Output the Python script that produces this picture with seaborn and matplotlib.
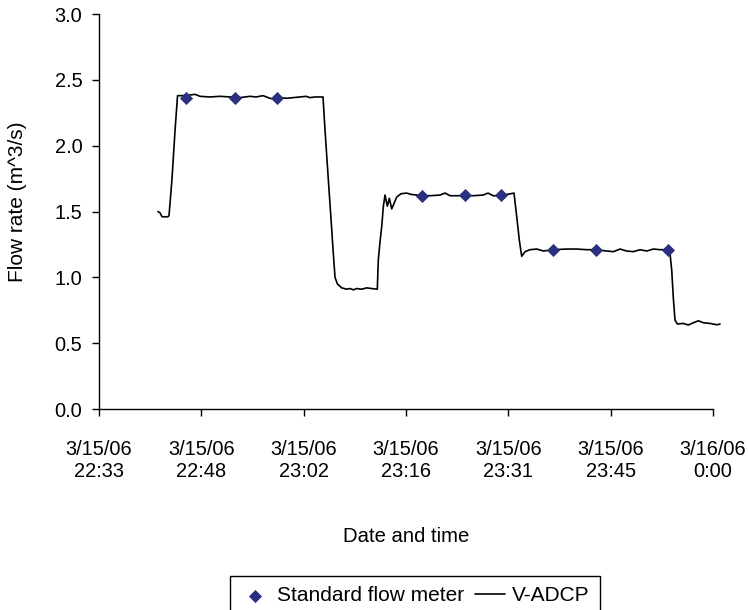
import pandas as pd
import numpy as np
import matplotlib
matplotlib.use("Agg")
import matplotlib.pyplot as plt
import matplotlib.dates as mdates
from matplotlib.ticker import FuncFormatter
import seaborn as sns

# V-ADCP: minutes after 3/15/06 22:30 and flow rate (m^3/s)
adcp_min = [11.90, 12.18, 12.47, 13.31, 13.45, 13.87, 14.30, 14.65, 15.28, 16.41,
            17.11, 17.81, 19.22, 20.63, 22.04, 23.44, 24.85, 25.69, 26.68, 27.66,
            28.51, 29.07, 30.06, 30.90, 31.89, 32.73, 33.29, 34.00, 35.12, 35.40,
            35.87, 36.35, 36.57, 36.81, 37.14, 37.75, 38.46, 38.92, 39.39, 39.86,
            40.57, 41.27, 41.98, 42.76, 42.90, 43.14, 43.38, 43.61, 43.85, 44.17,
            44.45, 44.79, 45.11, 45.49, 46.10, 46.90, 47.51, 48.31, 49.20, 50.18,
            51.59, 52.29, 52.99, 53.98, 55.11, 56.23, 57.64, 58.34, 59.05, 60.03,
            61.02, 62.00, 62.38, 62.75, 63.08, 63.55, 64.25, 65.20, 66.13, 67.53,
            69.42, 70.83, 72.23, 73.54, 75.05, 75.98, 76.92, 77.86, 78.79, 79.73,
            80.68, 81.61, 82.55, 83.68, 83.95, 84.19, 84.41, 84.65, 84.98, 85.83,
            86.53, 87.23, 87.94, 88.64, 89.59, 90.53, 90.99]
adcp_flow = [1.50, 1.49, 1.46, 1.46, 1.47, 1.75, 2.12, 2.38, 2.38, 2.385,
             2.39, 2.375, 2.37, 2.375, 2.37, 2.365, 2.375, 2.37, 2.38, 2.36,
             2.35, 2.365, 2.36, 2.365, 2.37, 2.375, 2.365, 2.37, 2.37, 2.12,
             1.74, 1.36, 1.18, 1.00, 0.95, 0.92, 0.91, 0.915, 0.905, 0.915,
             0.91, 0.92, 0.915, 0.91, 1.13, 1.27, 1.385, 1.54, 1.625, 1.54,
             1.60, 1.52, 1.56, 1.61, 1.635, 1.64, 1.63, 1.625, 1.62, 1.62,
             1.625, 1.64, 1.62, 1.62, 1.62, 1.62, 1.625, 1.64, 1.62, 1.62,
             1.63, 1.64, 1.46, 1.28, 1.16, 1.195, 1.21, 1.215, 1.20, 1.21,
             1.215, 1.215, 1.21, 1.21, 1.20, 1.195, 1.215, 1.20, 1.195, 1.21,
             1.20, 1.215, 1.21, 1.21, 1.18, 1.056, 0.85, 0.676, 0.646, 0.65,
             0.638, 0.655, 0.67, 0.655, 0.65, 0.64, 0.645]

# стандартный расходомер
meter_min = [15.80, 22.74, 28.69, 49.10, 55.10, 60.13, 67.53, 73.54, 83.63]
meter_flow = [2.36, 2.36, 2.365, 1.62, 1.625, 1.625, 1.21, 1.21, 1.21]

base = pd.Timestamp('2006-03-15 22:30:00')
x_start = pd.Timestamp('2006-03-15 22:33:36')
x_end = pd.Timestamp('2006-03-16 00:00:00')

adcp = pd.DataFrame({'time': base + pd.to_timedelta(adcp_min, unit='m'),
                     'flow': adcp_flow})
meter = pd.DataFrame({'time': base + pd.to_timedelta(meter_min, unit='m'),
                      'flow': meter_flow})

sns.set_style('ticks')
plt.rcParams['font.family'] = ['Liberation Sans', 'DejaVu Sans']
plt.rcParams.update({'text.color': 'black', 'axes.labelcolor': 'black',
                     'xtick.color': 'black', 'ytick.color': 'black'})

fig = plt.figure(figsize=(7.48, 6.10), dpi=100)
ax = fig.add_axes([0.1324, 0.3295, 0.8208, 0.6475])

sns.lineplot(data=adcp, x='time', y='flow', ax=ax, color='black',
             linewidth=1.2, sort=False, label='V-ADCP')
ax.lines[0].set_clip_on(False)
sns.scatterplot(data=meter, x='time', y='flow', ax=ax, marker='D', s=45,
                color='#2B2F80', linewidth=0, zorder=3,
                label='Standard flow meter')

ax.set_xlim(x_start, x_end)
ax.set_ylim(0, 3.0)
ticks = pd.date_range(x_start, x_end, periods=7)
ax.set_xticks(mdates.date2num(ticks))
ax.set_yticks(np.arange(0, 3.01, 0.5))


def fmt_date(v, pos):
    d = pd.Timestamp(mdates.num2date(v)).round('s')
    return f"{d.month}/{d.day}/{d:%y}\n{d.hour}:{d:%M}"


ax.xaxis.set_major_formatter(FuncFormatter(fmt_date))
ax.yaxis.set_major_formatter(FuncFormatter(lambda v, p: f"{v:.1f}"))
ax.tick_params(labelsize=14.4, length=5, width=1, color='black')
ax.tick_params(axis='x', pad=17)
ax.tick_params(axis='y', pad=7)

for s in ['top', 'right']:
    ax.spines[s].set_visible(False)
for s in ['left', 'bottom']:
    ax.spines[s].set_color('black')
    ax.spines[s].set_linewidth(1)

ax.set_xlabel('Date and time', fontsize=14.6)
ax.xaxis.set_label_coords(0.5, -0.299)
ax.set_ylabel('')
fig.text(18 / 748, 1 - 202 / 610, 'Flow rate (m^3/s)', rotation=90,
         ha='center', va='center', fontsize=15)

h, l = ax.get_legend_handles_labels()
order = [l.index('Standard flow meter'), l.index('V-ADCP')]
leg = ax.legend([h[i] for i in order], [l[i] for i in order],
                loc='upper center', bbox_to_anchor=(415 / 748, 1 - 576 / 610),
                bbox_transform=fig.transFigure, ncol=2, frameon=True,
                fancybox=False, edgecolor='black', framealpha=1, fontsize=15,
                handlelength=1.4, handletextpad=0.35, columnspacing=0.55,
                borderpad=0.5, borderaxespad=0)
leg.get_frame().set_linewidth(1.0)

fig.savefig('out.png', dpi=100)
